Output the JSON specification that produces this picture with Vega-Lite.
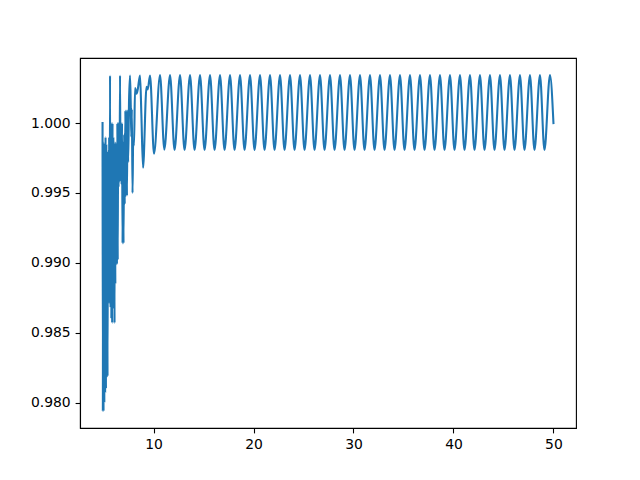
{
  "$schema": "https://vega.github.io/schema/vega-lite/v6.json",
  "width": 496,
  "height": 370,
  "autosize": {"type": "none"},
  "padding": {"left": 80, "top": 58, "right": 64, "bottom": 52},
  "background": "white",
  "config": {
    "view": {"stroke": "black", "strokeWidth": 1.1},
    "axis": {
      "grid": false,
      "domainColor": "black",
      "domainWidth": 1.1,
      "tickColor": "black",
      "tickWidth": 1.1,
      "tickSize": 4.9,
      "labelFont": "DejaVu Sans",
      "labelFontSize": 13.9,
      "labelColor": "black",
      "labelPadding": 4.9,
      "title": null
    }
  },
  "data": {
    "values": [
      {"x": 4.90, "y": 1.0000}, {"x": 4.93, "y": 0.9794}, {"x": 4.96, "y": 0.9986}, {"x": 5.00, "y": 0.9794},
      {"x": 5.04, "y": 0.9986}, {"x": 5.08, "y": 0.9800}, {"x": 5.12, "y": 0.9986}, {"x": 5.16, "y": 0.9807},
      {"x": 5.20, "y": 0.9990}, {"x": 5.24, "y": 0.9810}, {"x": 5.28, "y": 0.9985}, {"x": 5.32, "y": 0.9818},
      {"x": 5.36, "y": 0.9980}, {"x": 5.40, "y": 0.9819}, {"x": 5.45, "y": 0.9980}, {"x": 5.50, "y": 0.9871},
      {"x": 5.56, "y": 0.9990}, {"x": 5.60, "y": 0.9871}, {"x": 5.65, "y": 1.0034}, {"x": 5.70, "y": 0.9868},
      {"x": 5.74, "y": 1.0000}, {"x": 5.78, "y": 0.9860}, {"x": 5.82, "y": 1.0000}, {"x": 5.86, "y": 0.9857},
      {"x": 5.90, "y": 1.0000}, {"x": 5.94, "y": 0.9867}, {"x": 5.98, "y": 0.9990}, {"x": 6.02, "y": 0.9870},
      {"x": 6.06, "y": 0.9986}, {"x": 6.10, "y": 0.9857}, {"x": 6.14, "y": 0.9986}, {"x": 6.18, "y": 0.9885},
      {"x": 6.22, "y": 0.9986}, {"x": 6.26, "y": 0.9899}, {"x": 6.30, "y": 0.9986}, {"x": 6.34, "y": 0.9899},
      {"x": 6.38, "y": 1.0000}, {"x": 6.42, "y": 0.9902}, {"x": 6.46, "y": 1.0000}, {"x": 6.50, "y": 0.9954},
      {"x": 6.55, "y": 1.0000}, {"x": 6.60, "y": 0.9958}, {"x": 6.65, "y": 1.0034}, {"x": 6.70, "y": 0.9960},
      {"x": 6.75, "y": 1.0000}, {"x": 6.80, "y": 0.9956}, {"x": 6.85, "y": 1.0000}, {"x": 6.90, "y": 0.9914},
      {"x": 6.95, "y": 0.9986}, {"x": 7.00, "y": 0.9914}, {"x": 7.06, "y": 0.9992}, {"x": 7.12, "y": 0.9942},
      {"x": 7.18, "y": 1.0009}, {"x": 7.23, "y": 0.9948}, {"x": 7.29, "y": 1.0009}, {"x": 7.34, "y": 0.9948},
      {"x": 7.40, "y": 1.0009}, {"x": 7.46, "y": 0.9972}, {"x": 7.55, "y": 1.0016}, {"x": 7.65, "y": 1.0034},
      {"x": 7.72, "y": 1.0013}, {"x": 7.78, "y": 0.9990}, {"x": 7.83, "y": 1.0010}, {"x": 7.90, "y": 0.9950},
      {"x": 7.96, "y": 0.9986}, {"x": 8.05, "y": 0.9984}, {"x": 8.15, "y": 1.0025}, {"x": 8.30, "y": 1.0021},
      {"x": 8.42, "y": 1.0024}, {"x": 8.65, "y": 1.0034}, {"x": 8.78, "y": 1.0007}, {"x": 8.95, "y": 0.9968},
      {"x": 9.30, "y": 1.0026}, {"x": 9.42, "y": 1.0024}, {"x": 9.65, "y": 1.0034}, {"x": 10.05, "y": 0.9978},
      {"x": 10.65, "y": 1.00343}, {"x": 11.08, "y": 0.99810}, {"x": 11.65, "y": 1.00343}, {"x": 12.1, "y": 0.99807},
      {"x": 12.65, "y": 1.00343}, {"x": 13.1, "y": 0.99807}, {"x": 13.65, "y": 1.00343}, {"x": 14.1, "y": 0.99807},
      {"x": 14.65, "y": 1.00343}, {"x": 15.1, "y": 0.99807}, {"x": 15.65, "y": 1.00343}, {"x": 16.1, "y": 0.99807},
      {"x": 16.65, "y": 1.00343}, {"x": 17.1, "y": 0.99807}, {"x": 17.65, "y": 1.00343}, {"x": 18.1, "y": 0.99807},
      {"x": 18.65, "y": 1.00343}, {"x": 19.1, "y": 0.99807}, {"x": 19.65, "y": 1.00343}, {"x": 20.1, "y": 0.99807},
      {"x": 20.65, "y": 1.00343}, {"x": 21.1, "y": 0.99807}, {"x": 21.65, "y": 1.00343}, {"x": 22.1, "y": 0.99807},
      {"x": 22.65, "y": 1.00343}, {"x": 23.1, "y": 0.99807}, {"x": 23.65, "y": 1.00343}, {"x": 24.1, "y": 0.99807},
      {"x": 24.65, "y": 1.00343}, {"x": 25.1, "y": 0.99807}, {"x": 25.65, "y": 1.00343}, {"x": 26.1, "y": 0.99807},
      {"x": 26.65, "y": 1.00343}, {"x": 27.1, "y": 0.99807}, {"x": 27.65, "y": 1.00343}, {"x": 28.1, "y": 0.99807},
      {"x": 28.65, "y": 1.00343}, {"x": 29.1, "y": 0.99807}, {"x": 29.65, "y": 1.00343}, {"x": 30.1, "y": 0.99807},
      {"x": 30.65, "y": 1.00343}, {"x": 31.1, "y": 0.99807}, {"x": 31.65, "y": 1.00343}, {"x": 32.1, "y": 0.99807},
      {"x": 32.65, "y": 1.00343}, {"x": 33.1, "y": 0.99807}, {"x": 33.65, "y": 1.00343}, {"x": 34.1, "y": 0.99807},
      {"x": 34.65, "y": 1.00343}, {"x": 35.1, "y": 0.99807}, {"x": 35.65, "y": 1.00343}, {"x": 36.1, "y": 0.99807},
      {"x": 36.65, "y": 1.00343}, {"x": 37.1, "y": 0.99807}, {"x": 37.65, "y": 1.00343}, {"x": 38.1, "y": 0.99807},
      {"x": 38.65, "y": 1.00343}, {"x": 39.1, "y": 0.99807}, {"x": 39.65, "y": 1.00343}, {"x": 40.1, "y": 0.99807},
      {"x": 40.65, "y": 1.00343}, {"x": 41.1, "y": 0.99807}, {"x": 41.65, "y": 1.00343}, {"x": 42.1, "y": 0.99807},
      {"x": 42.65, "y": 1.00343}, {"x": 43.1, "y": 0.99807}, {"x": 43.65, "y": 1.00343}, {"x": 44.1, "y": 0.99807},
      {"x": 44.65, "y": 1.00343}, {"x": 45.1, "y": 0.99807}, {"x": 45.65, "y": 1.00343}, {"x": 46.1, "y": 0.99807},
      {"x": 46.65, "y": 1.00343}, {"x": 47.1, "y": 0.99807}, {"x": 47.65, "y": 1.00343}, {"x": 48.1, "y": 0.99807},
      {"x": 48.65, "y": 1.00343}, {"x": 49.1, "y": 0.99807}, {"x": 49.65, "y": 1.00343}, {"x": 50.00, "y": 1.00000}
    ]
  },
  "mark": {"type": "line", "color": "#1f77b4", "strokeWidth": 2.08, "interpolate": "monotone", "strokeJoin": "round", "strokeCap": "square", "clip": true},
  "encoding": {
    "x": {
      "field": "x", "type": "quantitative",
      "scale": {"domain": [2.645, 52.255], "nice": false, "zero": false},
      "axis": {"values": [10, 20, 30, 40, 50], "format": "d"}
    },
    "y": {
      "field": "y", "type": "quantitative",
      "scale": {"domain": [0.9782, 1.00465], "nice": false, "zero": false},
      "axis": {"values": [0.98, 0.985, 0.99, 0.995, 1.0], "format": ".3f"}
    }
  }
}
